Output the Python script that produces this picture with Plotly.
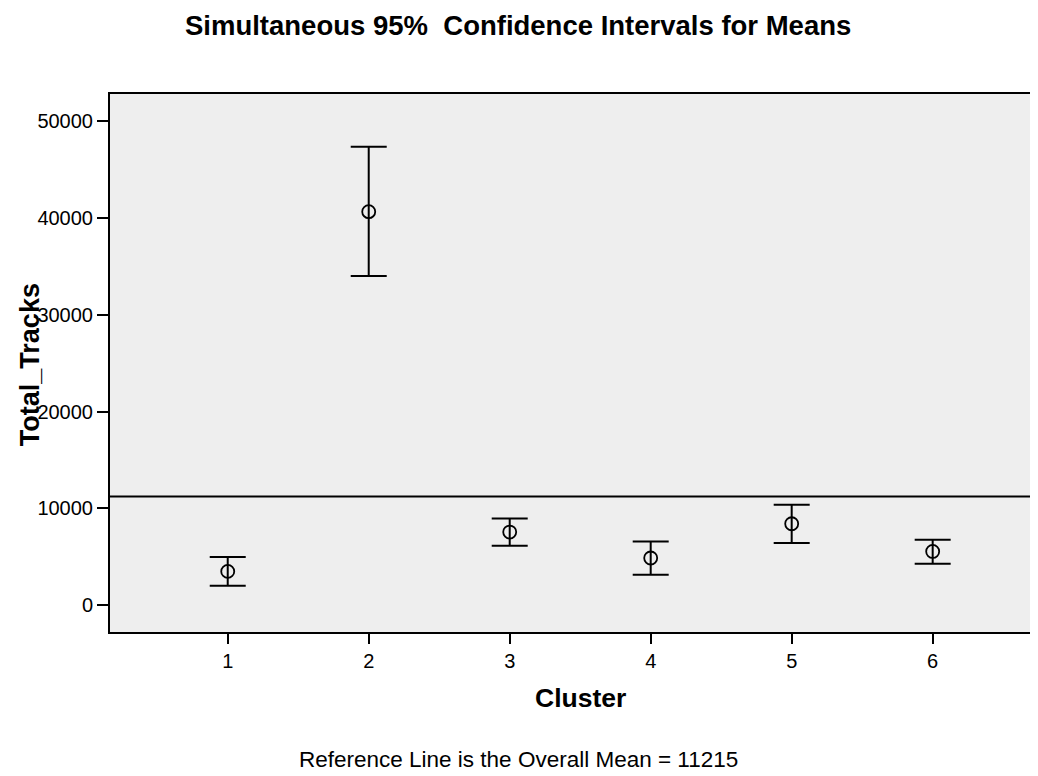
import plotly.graph_objects as go

clusters = [1, 2, 3, 4, 5, 6]
means = [3490, 40640, 7550, 4870, 8410, 5550]
lower = [2010, 34000, 6140, 3150, 6420, 4280]
upper = [4970, 47350, 8960, 6580, 10370, 6760]
overall_mean = 11215
y_ticks = [0, 10000, 20000, 30000, 40000, 50000]

FONT = "Liberation Sans, Arial, sans-serif"

err_plus = [u - m for u, m in zip(upper, means)]
err_minus = [m - l for m, l in zip(means, lower)]

fig = go.Figure()
fig.add_trace(go.Scatter(
    x=clusters, y=means, mode="markers",
    marker=dict(symbol="circle-open", size=13, color="black", line=dict(width=1.8, color="black")),
    error_y=dict(type="data", symmetric=False, array=err_plus, arrayminus=err_minus,
                 color="black", thickness=2, width=18),
    showlegend=False, hoverinfo="skip",
))

fig.add_shape(type="line", xref="paper", yref="y", x0=0, x1=1,
              y0=overall_mean, y1=overall_mean, line=dict(color="black", width=2))

fig.update_layout(
    width=1030, height=768,
    margin=dict(l=102, r=0, t=86, b=144, pad=0),
    paper_bgcolor="white", plot_bgcolor="#EEEEEE",
    font=dict(family=FONT, color="black"),
    xaxis=dict(range=[0.165, 6.747], tickvals=clusters, ticktext=[str(c) for c in clusters],
               showgrid=False, zeroline=False, showline=True, linecolor="black", linewidth=2,
               mirror=True, ticks="outside", ticklen=10, tickwidth=2, tickcolor="black",
               tickfont=dict(size=20, family=FONT, color="black")),
    yaxis=dict(range=[-2770, 52790], tickvals=y_ticks, ticktext=[str(v) for v in y_ticks],
               showgrid=False, zeroline=False, showline=True, linecolor="black", linewidth=2,
               mirror=False, ticks="outside", ticklen=11, tickwidth=2, tickcolor="black",
               tickfont=dict(size=20, family=FONT, color="black")),
    annotations=[
        dict(text="<b>Simultaneous 95%  Confidence Intervals for Means</b>", xref="paper", yref="paper",
             x=0.4397, y=1.128, xanchor="center", yanchor="middle", showarrow=False,
             font=dict(size=27.5, family=FONT, color="black")),
        dict(text="<b>Total_Tracks</b>", xref="paper", yref="paper", x=-0.0862, y=0.496,
             textangle=-90, xanchor="center", yanchor="middle", showarrow=False,
             font=dict(size=27, family=FONT, color="black")),
        dict(text="<b>Cluster</b>", xref="paper", yref="paper", x=0.5065, y=-0.1227,
             xanchor="center", yanchor="middle", showarrow=False,
             font=dict(size=26.5, family=FONT, color="black")),
        dict(text="Reference Line is the Overall Mean = 11215", xref="paper", yref="paper",
             x=0.4407, y=-0.2379, xanchor="center", yanchor="middle", showarrow=False,
             font=dict(size=22.5, family=FONT, color="black")),
    ],
)

fig.write_html("out.html")
